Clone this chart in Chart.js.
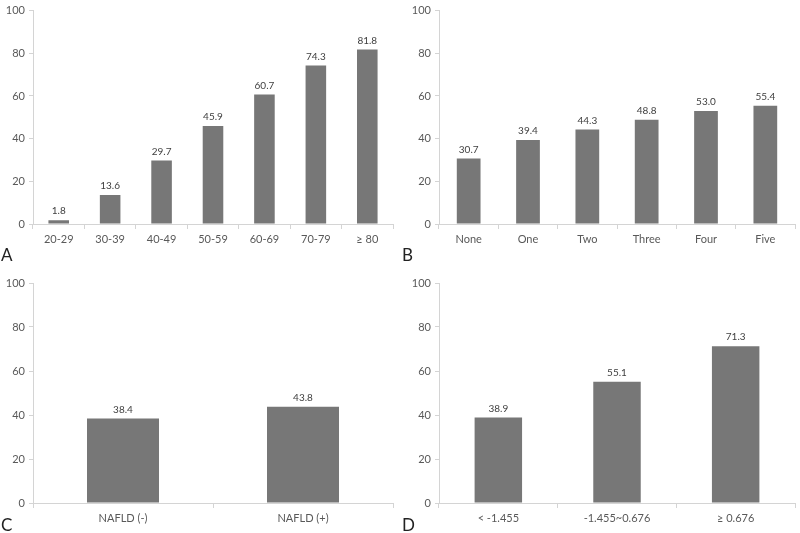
<!DOCTYPE html>
<html>
<head>
<meta charset="utf-8">
<script src="https://cdn.jsdelivr.net/npm/chart.js@4.4.0/dist/chart.umd.min.js"></script>
<style>
    body { margin: 0; background: #fff; width: 800px; height: 533px; position: relative; overflow: hidden; }
    .panel { position: absolute; }
    .letter { position: absolute; font-family: Lato, sans-serif; font-size: 17px; color: #222; }
</style>
</head>
<body>
<div class="panel" style="left:0;top:0;width:400px;height:266px"><canvas id="chartA"></canvas></div>
<div class="panel" style="left:400px;top:0;width:400px;height:266px"><canvas id="chartB"></canvas></div>
<div class="panel" style="left:0;top:266px;width:400px;height:267px"><canvas id="chartC"></canvas></div>
<div class="panel" style="left:400px;top:266px;width:400px;height:267px"><canvas id="chartD"></canvas></div>
<div class="letter" style="left:1px;top:244px">A</div>
<div class="letter" style="left:402px;top:244px">B</div>
<div class="letter" style="left:1px;top:514px">C</div>
<div class="letter" style="left:402px;top:514px">D</div>
<script>
// Dados dos quatro painéis
const labelsA = ['20-29', '30-39', '40-49', '50-59', '60-69', '70-79', '≥ 80'];
const valuesA = [1.8, 13.6, 29.7, 45.9, 60.7, 74.3, 81.8];

const labelsB = ['None', 'One', 'Two', 'Three', 'Four', 'Five'];
const valuesB = [30.7, 39.4, 44.3, 48.8, 53.0, 55.4];

const labelsC = ['NAFLD (-)', 'NAFLD (+)'];
const valuesC = [38.4, 43.8];

const labelsD = ['< -1.455', '-1.455~0.676', '≥ 0.676'];
const valuesD = [38.9, 55.1, 71.3];

const yTicks = [0, 20, 40, 60, 80, 100];

const FONT = 'Lato, sans-serif';
const TEXT = '#595959';
const AXIS = '#d4d4d4';
const BAR = '#777777';

// Rótulos de valor acima das barras
const valueLabels = {
    id: 'valueLabels',
    afterDatasetsDraw(chart) {
        const ctx = chart.ctx;
        const meta = chart.getDatasetMeta(0);
        ctx.save();
        ctx.font = '10px ' + FONT;
        ctx.fillStyle = '#404040';
        ctx.textAlign = 'center';
        ctx.textBaseline = 'bottom';
        meta.data.forEach((bar, i) => {
            ctx.fillText(chart.data.datasets[0].data[i].toFixed(1), bar.x, bar.y - 4);
        });
        ctx.restore();
    }
};

function makeChart(id, labels, values, opts) {
    return new Chart(document.getElementById(id), {
        type: 'bar',
        data: {
            labels: labels,
            datasets: [{
                data: values,
                backgroundColor: BAR,
                borderWidth: 0,
                barPercentage: 0.8,
                categoryPercentage: 0.5
            }]
        },
        options: {
            responsive: true,
            maintainAspectRatio: false,
            animation: false,
            layout: { padding: { top: opts.top, right: opts.right, left: 0, bottom: 0 } },
            plugins: { legend: { display: false }, tooltip: { enabled: false } },
            scales: {
                x: {
                    grid: { display: true, drawOnChartArea: false, drawTicks: true, tickLength: 5, color: AXIS, offset: true },
                    border: { color: AXIS },
                    ticks: { color: TEXT, font: { family: FONT, size: 11 }, padding: 4, maxRotation: 0 },
                    afterFit: s => { s.height = opts.xh; }
                },
                y: {
                    min: 0,
                    max: 100,
                    afterBuildTicks: s => { s.ticks = yTicks.map(v => ({ value: v })); },
                    grid: { display: true, drawOnChartArea: false, drawTicks: true, tickLength: 4, color: AXIS },
                    border: { color: AXIS },
                    ticks: { color: TEXT, font: { family: FONT, size: 11 }, padding: 4 },
                    afterFit: s => { s.width = opts.yw; }
                }
            }
        },
        plugins: [valueLabels]
    });
}

makeChart('chartA', labelsA, valuesA, { top: 5, right: 7, xh: 42, yw: 33 });
makeChart('chartB', labelsB, valuesB, { top: 5, right: 5, xh: 42, yw: 39 });
makeChart('chartC', labelsC, valuesC, { top: 17, right: 7, xh: 30, yw: 33 });
makeChart('chartD', labelsD, valuesD, { top: 17, right: 5, xh: 30, yw: 39 });
</script>
</body>
</html>
